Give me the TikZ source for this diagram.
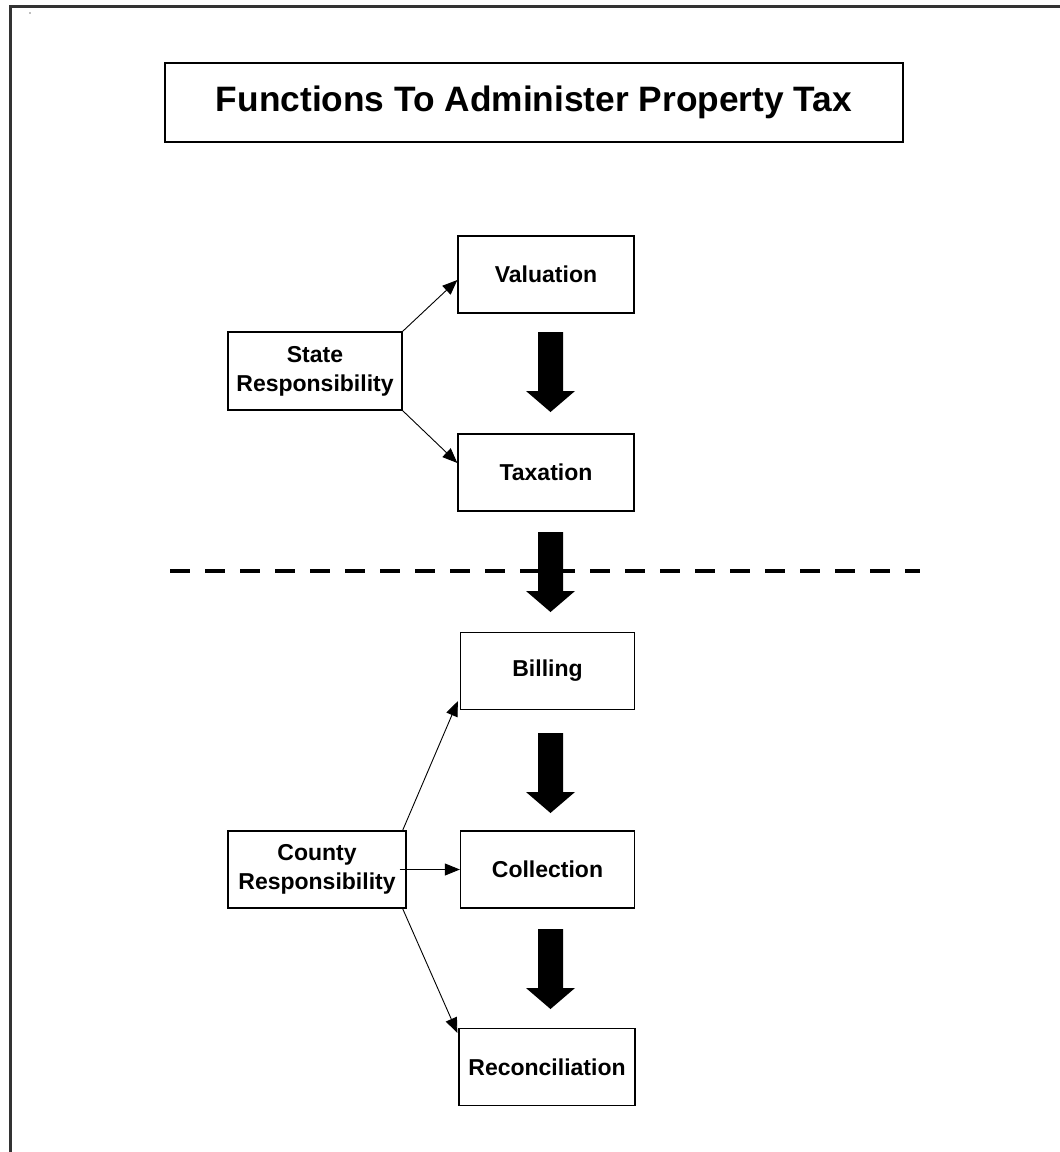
\documentclass[tikz,border=0pt]{standalone}
\usepackage{fontspec}
\setmainfont{Liberation Sans}
\usetikzlibrary{arrows.meta}
\begin{document}
\begin{tikzpicture}[x=1pt,y=-1pt,
  box/.style={draw, line width=1.3pt, minimum width=176pt, minimum height=77pt,
    inner sep=0pt, align=center, font=\bfseries\fontsize{23}{29}\selectfont},
  titlebox/.style={draw, line width=1.3pt, minimum width=738pt, minimum height=79pt,
    inner sep=0pt, font=\bfseries\fontsize{35.3}{40}\selectfont},
  link/.style={line width=0.9pt, -{Triangle[length=15pt,width=12pt]}},
  divider/.style={line width=4pt, dash pattern=on 20pt off 15pt},
  frameline/.style={line width=3pt, draw={black!80}},
  downarrow/.pic={\fill[black] (-12.5,0) -- (12.5,0) -- (12.5,59) -- (24.5,59) -- (0,80) -- (-24.5,59) -- (-12.5,59) -- cycle;}]
\useasboundingbox (0,0) rectangle (1060,1152);
% page frame (top and left edges)
\draw[frameline] (10.5,1152) -- (10.5,6) -- (1060,6);
\fill[black!50] (30,13) circle (0.8pt);
% title
\node[titlebox] (title) at (534,102.5) {Functions To Administer Property Tax};
% boxes
\node[box] (val) at (546,274.5) {Valuation};
\node[box] (tax) at (546,472.5) {Taxation};
\node[box, minimum width=174pt, minimum height=78pt] (state) at (315,371) {State\\Responsibility};
\node[box, minimum width=174pt] (bill) at (547.5,671) {Billing};
\node[box, minimum width=174pt] (coll) at (547.5,869.5) {Collection};
\node[box] (rec) at (547,1067) {Reconciliation};
\node[box, minimum width=178pt] (county) at (317,869.5) {County\\Responsibility};
% divider
\draw[divider] (170,571) -- (920,571);
% block arrows
\pic at (550.5,332) {downarrow};
\pic at (550.5,532) {downarrow};
\pic at (550.5,733) {downarrow};
\pic at (550.5,929) {downarrow};
% connectors
\coordinate (vin) at ([yshift=-5.5pt]val.west);
\coordinate (tin) at ([yshift=9.5pt]tax.west);
\draw[link] (state.north east) -- (vin);
\draw[link] (state.south east) -- (tin);
\coordinate (bin) at ([xshift=-2pt,yshift=9pt]bill.south west);
\coordinate (cout) at ([xshift=-7pt]county.east);
\coordinate (rin) at ([xshift=-1pt,yshift=-5pt]rec.north west);
\coordinate (ctop) at ([xshift=-4pt]county.north east);
\coordinate (cbot) at ([xshift=-4pt]county.south east);
\draw[link] (ctop) -- (bin);
\draw[link] (cout) -- (coll.west);
\draw[link] (cbot) -- (rin);
\end{tikzpicture}
\end{document}
